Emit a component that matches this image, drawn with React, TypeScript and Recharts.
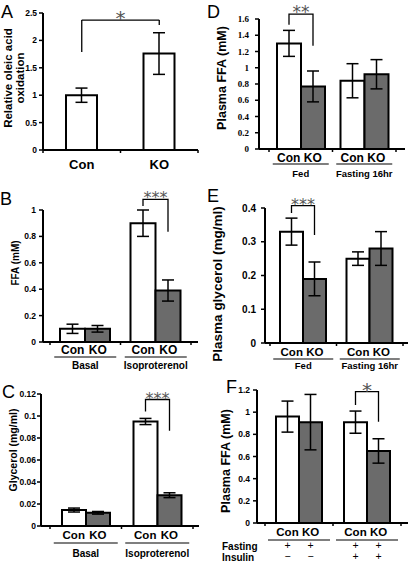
import React from 'react';
import { BarChart, Bar, XAxis, YAxis, ErrorBar, LabelList, ReferenceLine } from 'recharts';

// ---- values (mean, sem) ----
const oxidationGroups = ['Con', 'KO'];
const oxidationMean = [1.0, 1.76];
const oxidationSem = [0.13, 0.38];

const lipolysisGroups = ['Basal', 'Isoproterenol'];
const ffaCon = [0.1, 0.9];
const ffaConSem = [0.035, 0.1];
const ffaKo = [0.1, 0.39];
const ffaKoSem = [0.025, 0.08];
const glycerolCon = [0.0145, 0.095];
const glycerolConSem = [0.0018, 0.0028];
const glycerolKo = [0.012, 0.028];
const glycerolKoSem = [0.0012, 0.0022];

const feedingGroups = ['Fed', 'Fasting 16hr'];
const plasmaFfaCon = [1.3, 0.84];
const plasmaFfaConSem = [0.16, 0.21];
const plasmaFfaKo = [0.77, 0.92];
const plasmaFfaKoSem = [0.19, 0.18];
const plasmaGlyCon = [0.33, 0.25];
const plasmaGlyConSem = [0.04, 0.02];
const plasmaGlyKo = [0.19, 0.28];
const plasmaGlyKoSem = [0.05, 0.05];

const insulinGroups = ['Fasting', 'Fasting + Insulin'];
const insulinFfaCon = [0.96, 0.91];
const insulinFfaConSem = [0.14, 0.1];
const insulinFfaKo = [0.91, 0.65];
const insulinFfaKoSem = [0.25, 0.11];
const fastingSigns = [['+', '+'], ['+', '+']];
const insulinSigns = [['\u2212', '\u2212'], ['+', '+']];

const ticksA = [0, 0.5, 1, 1.5, 2, 2.5];
const ticksB = [0, 0.2, 0.4, 0.6, 0.8, 1];
const ticksC = [0, 0.02, 0.04, 0.06, 0.08, 0.1, 0.12];
const ticksD = [0, 0.2, 0.4, 0.6, 0.8, 1, 1.2, 1.4, 1.6];
const ticksE = [0, 0.1, 0.2, 0.3, 0.4];
const ticksF = [0, 0.2, 0.4, 0.6, 0.8, 1, 1.2];

const SANS = '"Liberation Sans", Arial, sans-serif';
const SERIF = '"Liberation Serif", "Times New Roman", serif';
const GREY = '#6b6b6b';
const STAR = '#555';

type Bracket = { index: number; from: number; top: number; to: number; stars: string; size: number };

type SignRow = { dy: number; signs: string[][] };

type PairCfg = {
  box: [number, number, number, number]; // left, top, width, height (page px)
  plot: [number, number, number, number]; // left, top, right, bottom (page px)
  groups: string[];
  con: number[];
  conSem: number[];
  ko: number[];
  koSem: number[];
  domain: [number, number];
  ticks: number[];
  tickFont: number;
  tickFamily: string;
  tickMargin: number;
  barSize: number;
  pad: [number, number];
  labelFont: number;
  groupFont: number;
  conKoDy: number;
  lineDy: number;
  lineHalf: number;
  groupDy: number;
  signRows?: SignRow[];
  bracket: Bracket;
};

function table(groups: string[], con: number[], conSem: number[], ko: number[], koSem: number[]) {
  return groups.map((group, i) => ({ group, con: con[i], conSem: conSem[i], ko: ko[i], koSem: koSem[i] }));
}

// bracket drawn off the Con bar geometry (KO bar sits right next to it)
function bracketContent(br: Bracket) {
  return (p: any) => {
    if (p.index !== br.index) return null;
    const vb = p.viewBox && p.viewBox.width != null ? p.viewBox : p;
    const { x, y, width, height } = vb;
    const v = Number(p.value);
    const base = y + height;
    const k = height / v;
    const py = (d: number) => base - d * k;
    const x1 = x + width / 2;
    const x2 = x + width * 1.5;
    return (
      <g>
        <polyline
          points={`${x1},${py(br.from)} ${x1},${py(br.top)} ${x2},${py(br.top)} ${x2},${py(br.to)}`}
          fill="none"
          stroke="#000"
          strokeWidth={1.3}
        />
        <text x={(x1 + x2) / 2} y={py(br.top) + br.size * 0.25} textAnchor="middle"
          fontFamily='"DejaVu Sans", sans-serif' fontSize={br.size} fill={STAR}>
          {br.stars}
        </text>
      </g>
    );
  };
}

function makeTick(cfg: PairCfg) {
  const band = (cfg.plot[2] - cfg.plot[0] - cfg.pad[0] - cfg.pad[1]) / cfg.groups.length;
  return (p: any) => {
    const { x, y, index } = p;
    const label = p.payload?.value;
    const cx = x - cfg.barSize / 2;
    const kx = x + cfg.barSize / 2;
    const txt = { textAnchor: 'middle' as const, fontFamily: SANS, fontWeight: 700, fill: '#000' };
    return (
      <g>
        {index === 0 && <line x1={x - band / 2} x2={x - band / 2} y1={y} y2={y + 3} stroke="#000" strokeWidth={1.5} />}
        <line x1={x + band / 2} x2={x + band / 2} y1={y} y2={y + 3} stroke="#000" strokeWidth={1.5} />
        <text x={cx} y={y + cfg.conKoDy} fontSize={cfg.labelFont} {...txt}>Con</text>
        <text x={kx} y={y + cfg.conKoDy} fontSize={cfg.labelFont} {...txt}>KO</text>
        <line x1={x - cfg.lineHalf} x2={x + cfg.lineHalf} y1={y + cfg.lineDy} y2={y + cfg.lineDy} stroke="#000" strokeWidth={1.2} />
        {!cfg.signRows && (
          <text x={x} y={y + cfg.groupDy} fontSize={cfg.groupFont} {...txt}>{label}</text>
        )}
        {cfg.signRows?.map((row, r) => (
          <g key={r}>
            <text x={cx} y={y + row.dy} fontSize={10.5} textAnchor="middle" dominantBaseline="central" fontFamily={SANS}>{row.signs[index][0]}</text>
            <text x={kx} y={y + row.dy} fontSize={10.5} textAnchor="middle" dominantBaseline="central" fontFamily={SANS}>{row.signs[index][1]}</text>
          </g>
        ))}
      </g>
    );
  };
}

function PairPanel({ cfg }: { cfg: PairCfg }) {
  const [bl, bt, bw, bh] = cfg.box;
  const [pl, pt, pr, pb] = cfg.plot;
  const data = table(cfg.groups, cfg.con, cfg.conSem, cfg.ko, cfg.koSem);
  return (
    <div style={{ position: 'absolute', left: bl, top: bt }}>
      <BarChart width={bw} height={bh} data={data} barGap={0}
        margin={{ top: pt - bt, right: bl + bw - pr, bottom: 0, left: 0 }}>
        <XAxis dataKey="group" height={bt + bh - pb} interval={0}
          axisLine={{ stroke: '#000', strokeWidth: 2 }} tickLine={false} tickSize={0} tickMargin={0}
          padding={{ left: cfg.pad[0], right: cfg.pad[1] }} tick={makeTick(cfg)} />
        <YAxis type="number" domain={cfg.domain} ticks={cfg.ticks} interval={0} width={pl - bl}
          allowDataOverflow axisLine={{ stroke: '#000', strokeWidth: 2 }}
          tickLine={{ stroke: '#000', strokeWidth: 1.5 }} tickSize={4} tickMargin={cfg.tickMargin}
          tick={{ fontSize: cfg.tickFont, fontWeight: 700, fill: '#000', fontFamily: cfg.tickFamily }} />
        <Bar dataKey="con" barSize={cfg.barSize} fill="#fff" stroke="#000" strokeWidth={2} isAnimationActive={false}>
          <ErrorBar dataKey="conSem" width={6} stroke="#000" strokeWidth={1.5} />
          <LabelList dataKey="con" content={bracketContent(cfg.bracket)} />
        </Bar>
        <Bar dataKey="ko" barSize={cfg.barSize} fill={GREY} stroke="#000" strokeWidth={2} isAnimationActive={false}>
          <ErrorBar dataKey="koSem" width={6} stroke="#000" strokeWidth={1.5} />
        </Bar>
      </BarChart>
    </div>
  );
}

function OxidationPanel() {
  const data = oxidationGroups.map((g, i) => ({ group: g, mean: oxidationMean[i], sem: oxidationSem[i] }));
  const line = { stroke: '#000', strokeWidth: 1.3, ifOverflow: 'visible' as const };
  return (
    <div style={{ position: 'absolute', left: 0, top: 0 }}>
      <BarChart width={205} height={178} data={data} margin={{ top: 13, right: 7, bottom: 0, left: 0 }}>
        <XAxis dataKey="group" height={28} interval={0}
          axisLine={{ stroke: '#000', strokeWidth: 2 }} tickLine={false} tickSize={0} tickMargin={0}
          tick={(p: any) => (
            <g>
              {p.index === 0 && <line x1={p.x - 38.75} x2={p.x - 38.75} y1={p.y} y2={p.y + 3} stroke="#000" strokeWidth={1.5} />}
              <line x1={p.x + 38.75} x2={p.x + 38.75} y1={p.y} y2={p.y + 3} stroke="#000" strokeWidth={1.5} />
              <text x={p.x} y={p.y + 19} textAnchor="middle" fontSize={13} fontWeight={700} fontFamily={SANS}>{p.payload.value}</text>
            </g>
          )} />
        <YAxis type="number" domain={[0, 2.5]} ticks={ticksA} interval={0} width={43}
          axisLine={{ stroke: '#000', strokeWidth: 2 }}
          tickLine={{ stroke: '#000', strokeWidth: 1.5 }} tickSize={4} tickMargin={2}
          tick={{ fontSize: 8.5, fontWeight: 700, fill: '#000', fontFamily: SANS }} />
        <Bar dataKey="mean" barSize={31} fill="#fff" stroke="#000" strokeWidth={2} isAnimationActive={false}>
          <ErrorBar dataKey="sem" width={6} stroke="#000" strokeWidth={1.5} />
        </Bar>
        <ReferenceLine segment={[{ x: 'Con', y: 1.79 }, { x: 'Con', y: 2.37 }]} {...line} />
        <ReferenceLine segment={[{ x: 'KO', y: 2.28 }, { x: 'KO', y: 2.37 }]} {...line} />
        <ReferenceLine segment={[{ x: 'Con', y: 2.37 }, { x: 'KO', y: 2.37 }]} {...line}
          label={(p: any) => (
            <text x={p.viewBox.x + p.viewBox.width / 2} y={p.viewBox.y + 5} textAnchor="middle"
              fontFamily='"DejaVu Sans", sans-serif' fontSize={20} fill={STAR}>*</text>
          )} />
      </BarChart>
    </div>
  );
}

const panelB: PairCfg = {
  box: [0, 185, 205, 187], plot: [43, 210, 198, 342],
  groups: lipolysisGroups, con: ffaCon, conSem: ffaConSem, ko: ffaKo, koSem: ffaKoSem,
  domain: [0, 1], ticks: ticksB, tickFont: 8.5, tickFamily: SANS, tickMargin: 3,
  barSize: 25, pad: [7, 7], labelFont: 12, groupFont: 10,
  conKoDy: 12, lineDy: 15, lineHalf: 31, groupDy: 27,
  bracket: { index: 1, from: 1.03, top: 1.08, to: 0.835, stars: '***', size: 16 },
};

const panelC: PairCfg = {
  box: [0, 375, 205, 187], plot: [41, 394, 199, 526],
  groups: lipolysisGroups, con: glycerolCon, conSem: glycerolConSem, ko: glycerolKo, koSem: glycerolKoSem,
  domain: [0, 0.12], ticks: ticksC, tickFont: 8.5, tickFamily: SANS, tickMargin: 1,
  barSize: 24, pad: [9, 6], labelFont: 11.5, groupFont: 10,
  conKoDy: 13, lineDy: 17, lineHalf: 32, groupDy: 31,
  bracket: { index: 1, from: 0.104, top: 0.115, to: 0.0866, stars: '***', size: 16 },
};

const panelD: PairCfg = {
  box: [205, 0, 205, 182], plot: [259, 19, 405, 149],
  groups: feedingGroups, con: plasmaFfaCon, conSem: plasmaFfaConSem, ko: plasmaFfaKo, koSem: plasmaFfaKoSem,
  domain: [0, 1.6], ticks: ticksD, tickFont: 9, tickFamily: SERIF, tickMargin: 6,
  barSize: 24, pad: [10, 9], labelFont: 12, groupFont: 9.5,
  conKoDy: 13, lineDy: 15, lineHalf: 28, groupDy: 28,
  bracket: { index: 0, from: 1.53, top: 1.66, to: 1.27, stars: '**', size: 17 },
};

const panelE: PairCfg = {
  box: [205, 183, 205, 189], plot: [265, 208, 408, 343],
  groups: feedingGroups, con: plasmaGlyCon, conSem: plasmaGlyConSem, ko: plasmaGlyKo, koSem: plasmaGlyKoSem,
  domain: [0, 0.4], ticks: ticksE, tickFont: 10, tickFamily: SANS, tickMargin: 5,
  barSize: 23, pad: [5, 5], labelFont: 11.5, groupFont: 9.5,
  conKoDy: 13, lineDy: 16, lineHalf: 30, groupDy: 26,
  bracket: { index: 0, from: 0.385, top: 0.407, to: 0.32, stars: '***', size: 16 },
};

const panelF: PairCfg = {
  box: [205, 375, 205, 187], plot: [257, 390, 408, 523],
  groups: insulinGroups, con: insulinFfaCon, conSem: insulinFfaConSem, ko: insulinFfaKo, koSem: insulinFfaKoSem,
  domain: [0, 1.2], ticks: ticksF, tickFont: 8.5, tickFamily: SANS, tickMargin: 3,
  barSize: 23, pad: [8, 7], labelFont: 11.5, groupFont: 10,
  conKoDy: 13, lineDy: 17, lineHalf: 31, groupDy: 27,
  signRows: [{ dy: 22, signs: fastingSigns }, { dy: 33, signs: insulinSigns }],
  bracket: { index: 1, from: 1.065, top: 1.185, to: 0.914, stars: '*', size: 20 },
};

const letters = [
  { t: 'A', x: 1, y: 18 }, { t: 'B', x: 0, y: 205 }, { t: 'C', x: 2, y: 398 },
  { t: 'D', x: 207, y: 18 }, { t: 'E', x: 207, y: 202 }, { t: 'F', x: 226, y: 393 },
];

const titles = [
  { t: 'Relative oleic acid', x: 7.5, y: 78, size: 11.5 },
  { t: 'oxidation', x: 20, y: 78, size: 11.5 },
  { t: 'FFA (mM)', x: 15, y: 263, size: 10 },
  { t: 'Glycerol (mg/ml)', x: 13, y: 450, size: 10.5 },
  { t: 'Plasma FFA (mM)', x: 222, y: 78, size: 12.5 },
  { t: 'Plasma glycerol (mg/ml)', x: 217, y: 284, size: 13.5 },
  { t: 'Plasma FFA (mM)', x: 226, y: 461, size: 12.5 },
];

export default function App() {
  return (
    <div style={{ position: 'absolute', left: 0, top: 0, width: 410, height: 562, background: '#fff', overflow: 'hidden' }}>
      <OxidationPanel />
      <PairPanel cfg={panelB} />
      <PairPanel cfg={panelC} />
      <PairPanel cfg={panelD} />
      <PairPanel cfg={panelE} />
      <PairPanel cfg={panelF} />
      <svg width={410} height={562} style={{ position: 'absolute', left: 0, top: 0, pointerEvents: 'none' }}>
        {letters.map((l) => (
          <text key={l.t} x={l.x} y={l.y} fontSize={18} fontFamily={SANS}>{l.t}</text>
        ))}
        {titles.map((t, i) => (
          <text key={i} x={t.x} y={t.y} transform={`rotate(-90 ${t.x} ${t.y})`} textAnchor="middle"
            dominantBaseline="central" fontSize={t.size} fontWeight={700} fontFamily={SANS}>{t.t}</text>
        ))}
        <text x={222} y={550} fontSize={10} fontWeight={700} fontFamily={SANS}>Fasting</text>
        <text x={222} y={561} fontSize={10} fontWeight={700} fontFamily={SANS}>Insulin</text>
      </svg>
    </div>
  );
}
